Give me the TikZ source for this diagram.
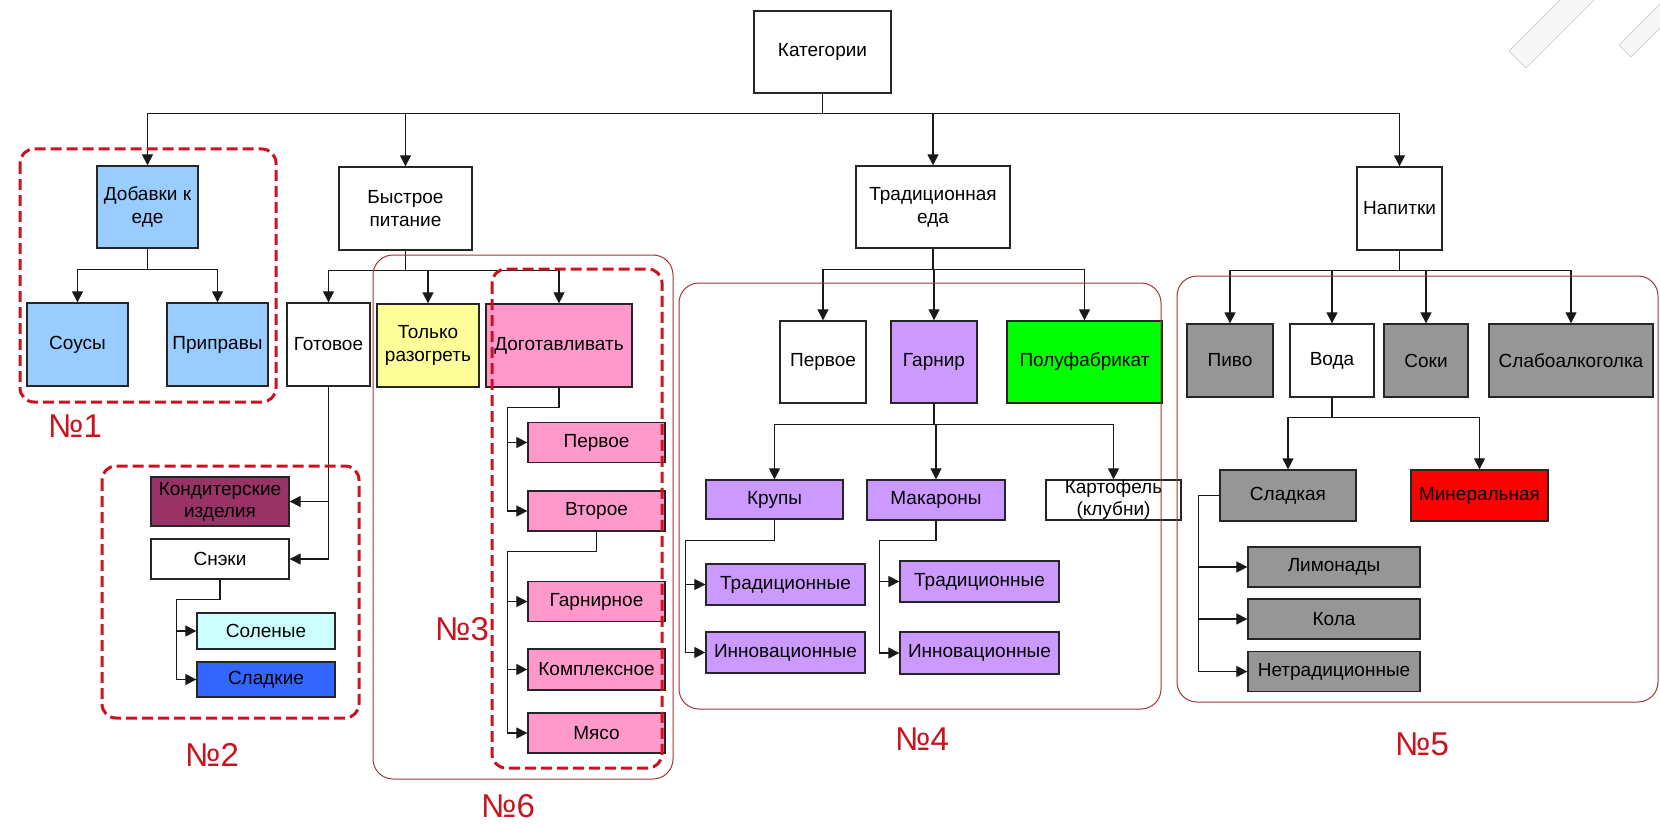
\documentclass[tikz,border=0pt]{standalone}
\usepackage{fontspec}
\setmainfont{Liberation Sans}
\usetikzlibrary{arrows.meta}
\definecolor{menuBlue}{RGB}{153, 204, 255}
\definecolor{menuYellow}{RGB}{255, 255, 153}
\definecolor{menuPink}{RGB}{255, 153, 204}
\definecolor{menuPurple}{RGB}{204, 153, 255}
\definecolor{menuGreen}{RGB}{0, 255, 0}
\definecolor{menuGray}{RGB}{150, 150, 150}
\definecolor{menuRed}{RGB}{255, 0, 0}
\definecolor{menuMaroon}{RGB}{153, 51, 102}
\definecolor{menuCyan}{RGB}{204, 255, 255}
\definecolor{menuDeepBlue}{RGB}{51, 102, 255}
\definecolor{groupRed}{RGB}{200, 20, 30}
\definecolor{groupBrown}{RGB}{160, 55, 55}

\begin{document}
\begin{tikzpicture}[
  x=1pt,y=-1pt,
  box/.style={
    draw=black!85,
    line width=1.3pt,
    align=center,
    inner sep=2pt,
    font=\fontsize{19}{23}\selectfont
  },
  arrow/.style={-{Triangle[length=11pt,width=11pt]},line width=1.2pt,black!90},
  group/.style={draw=groupRed,line width=3pt,dash pattern=on 11pt off 5pt,rounded corners=14pt},
  frame/.style={draw=groupBrown,line width=1pt,rounded corners=20pt},
  tag/.style={text=groupRed,font=\fontsize{33}{36}\selectfont}
]
  \useasboundingbox (0,0) rectangle (1660,824);

  % slide decoration, top right
  \begin{scope}
    \clip (0,0) rectangle (1660,824);
    \draw[gray!45,fill=gray!6] (1509,51) -- (1526,68) -- (1600,-6) -- (1566,-6) -- cycle;
    \draw[gray!45,fill=gray!6] (1619,45) -- (1631,57) -- (1700,-12) -- (1676,-12) -- cycle;
  \end{scope}

  % top levels
  \node[box,minimum width=137pt,minimum height=82pt] (cat) at (822.5,52) {Категории};
  \node[box,fill=menuBlue,minimum width=101pt,minimum height=82pt] (add) at (147.5,207)
    {Добавки к\\еде};
  \node[box,minimum width=133pt,minimum height=83pt] (fast) at (405.5,208.5)
    {Быстрое\\питание};
  \node[box,minimum width=154pt,minimum height=82pt] (trad) at (933,207)
    {Традиционная\\еда};
  \node[box,minimum width=85pt,minimum height=83pt] (drink) at (1399.5,208.5) {Напитки};

  \draw[arrow] (cat.south) -- ++(0,20) -| (add.north);
  \draw[arrow] (cat.south) -- ++(0,20) -| (fast.north);
  \draw[arrow] (cat.south) -- ++(0,20) -| (trad.north);
  \draw[arrow] (cat.south) -- ++(0,20) -| (drink.north);

  % food additions
  \node[box,fill=menuBlue,minimum width=101pt,minimum height=83pt] (sauce) at (77.5,344.5) {Соусы};
  \node[box,fill=menuBlue,minimum width=101pt,minimum height=83pt] (spice) at (217.5,344.5) {Приправы};
  \draw[arrow] (add.south) -- ++(0,21) -| (sauce.north);
  \draw[arrow] (add.south) -- ++(0,21) -| (spice.north);

  % fast food
  \node[box,minimum width=83pt,minimum height=83pt] (ready) at (328.5,344.5) {Готовое};
  \node[box,fill=menuYellow,minimum width=102pt,minimum height=83pt] (heat) at (428,345.5)
    {Только\\разогреть};
  \node[box,fill=menuPink,minimum width=146pt,minimum height=83pt] (finish) at (559,345.5)
    {Доготавливать};
  \draw[arrow] (fast.south) -- ++(0,20) -| (ready.north);
  \draw[arrow] (fast.south) -- ++(0,20) -| (heat.north);
  \draw[arrow] (fast.south) -- ++(0,20) -| (finish.north);

  \node[box,fill=menuMaroon,minimum width=138pt,minimum height=49pt,
    font=\fontsize{19}{22}\selectfont] (confect) at (220,501.5) {Кондитерские\\изделия};
  \node[box,minimum width=138pt,minimum height=40pt] (snack) at (220,559) {Снэки};
  \node[box,fill=menuCyan,minimum width=138pt,minimum height=36pt] (salty) at (266,631) {Соленые};
  \node[box,fill=menuDeepBlue,minimum width=138pt,minimum height=35pt] (sweet) at (266,679.5) {Сладкие};
  \draw[arrow] (ready.south) |- (confect.east);
  \draw[arrow] (ready.south) |- (snack.east);
  \draw[arrow] (snack.south) -- ++(0,20) -| ([xshift=-20pt]salty.west) -- (salty.west);
  \draw[arrow] (snack.south) -- ++(0,20) -| ([xshift=-20pt]sweet.west) -- (sweet.west);

  \node[box,fill=menuPink,minimum width=137pt,minimum height=40pt] (dish1) at (596.5,442.5) {Первое};
  \node[box,fill=menuPink,minimum width=137pt,minimum height=40pt] (dish2) at (596.5,511) {Второе};
  \node[box,fill=menuPink,minimum width=137pt,minimum height=40pt] (dish3) at (596.5,601.5) {Гарнирное};
  \node[box,fill=menuPink,minimum width=137pt,minimum height=41pt] (dish4) at (596.5,669.5) {Комплексное};
  \node[box,fill=menuPink,minimum width=137pt,minimum height=40pt] (dish5) at (596.5,733) {Мясо};
  \draw[arrow] (finish.south) -- ++(0,20) -| ([xshift=-20pt]dish1.west) -- (dish1.west);
  \draw[arrow] (finish.south) -- ++(0,20) -| ([xshift=-20pt]dish2.west) -- (dish2.west);
  \draw[arrow] (dish2.south) -- ++(0,20) -| ([xshift=-20pt]dish3.west) -- (dish3.west);
  \draw[arrow] (dish2.south) -- ++(0,20) -| ([xshift=-20pt]dish4.west) -- (dish4.west);
  \draw[arrow] (dish2.south) -- ++(0,20) -| ([xshift=-20pt]dish5.west) -- (dish5.west);

  % traditional food
  \node[box,minimum width=86pt,minimum height=82pt] (first) at (823,362) {Первое};
  \node[box,fill=menuPurple,minimum width=86pt,minimum height=82pt] (garnish) at (934,362) {Гарнир};
  \node[box,fill=menuGreen,minimum width=155pt,minimum height=82pt] (semi) at (1084.5,362) {Полуфабрикат};
  \draw[arrow] (trad.south) -- ++(0,21) -| (first.north);
  \draw[arrow] (trad.south) -- ++(0,21) -| (garnish.north);
  \draw[arrow] (trad.south) -- ++(0,21) -| (semi.north);

  \node[box,fill=menuPurple,minimum width=137pt,minimum height=39pt] (grain) at (774.5,499.5) {Крупы};
  \node[box,fill=menuPurple,minimum width=138pt,minimum height=40pt] (pasta) at (936,500) {Макароны};
  \node[box,minimum width=135pt,minimum height=40pt,inner ysep=0pt,
    font=\fontsize{19}{22}\selectfont] (potato) at (1113.5,500) {Картофель\\(клубни)};
  \draw[arrow] (garnish.south) -- ++(0,21) -| (grain.north);
  \draw[arrow] (garnish.south) -- ++(0,21) -| (pasta.north);
  \draw[arrow] (garnish.south) -- ++(0,21) -| (potato.north);

  \node[box,fill=menuPurple,minimum width=159pt,minimum height=41pt] (grainOld) at (785.5,584.5) {Традиционные};
  \node[box,fill=menuPurple,minimum width=159pt,minimum height=41pt] (grainNew) at (785.5,652.5) {Инновационные};
  \node[box,fill=menuPurple,minimum width=159pt,minimum height=41pt] (pastaOld) at (979.5,581.5) {Традиционные};
  \node[box,fill=menuPurple,minimum width=159pt,minimum height=42pt] (pastaNew) at (979.5,653) {Инновационные};
  \draw[arrow] (grain.south) -- ++(0,21) -| ([xshift=-20pt]grainOld.west) -- (grainOld.west);
  \draw[arrow] (grain.south) -- ++(0,21) -| ([xshift=-20pt]grainNew.west) -- (grainNew.west);
  \draw[arrow] (pasta.south) -- ++(0,20) -| ([xshift=-20pt]pastaOld.west) -- (pastaOld.west);
  \draw[arrow] (pasta.south) -- ++(0,20) -| ([xshift=-20pt]pastaNew.west) -- (pastaNew.west);

  % drinks
  \node[box,fill=menuGray,minimum width=86pt,minimum height=73pt] (beer) at (1230,360.5) {Пиво};
  \node[box,minimum width=84pt,minimum height=73pt] (water) at (1332,360.5) {Вода};
  \node[box,fill=menuGray,minimum width=84pt,minimum height=73pt] (juice) at (1426,360.5) {Соки};
  \node[box,fill=menuGray,minimum width=164pt,minimum height=73pt] (lowalc) at (1571,360.5) {Слабоалкоголка};
  \draw[arrow] (drink.south) -- ++(0,20) -| (beer.north);
  \draw[arrow] (drink.south) -- ++(0,20) -| (water.north);
  \draw[arrow] (drink.south) -- ++(0,20) -| (juice.north);
  \draw[arrow] (drink.south) -- ++(0,20) -| (lowalc.north);

  \node[box,fill=menuGray,minimum width=136pt,minimum height=51pt] (sweetw) at (1288,495.5) {Сладкая};
  \node[box,fill=menuRed,minimum width=137pt,minimum height=51pt] (mineral) at (1479.5,495.5) {Минеральная};
  \draw[arrow] (water.south) -- ++(0,20) -| (sweetw.north);
  \draw[arrow] (water.south) -- ++(0,20) -| (mineral.north);

  \node[box,fill=menuGray,minimum width=172pt,minimum height=40pt] (lemon) at (1334,567) {Лимонады};
  \node[box,fill=menuGray,minimum width=172pt,minimum height=40pt] (cola) at (1334,619) {Кола};
  \node[box,fill=menuGray,minimum width=172pt,minimum height=40pt] (odd) at (1334,671.5) {Нетрадиционные};
  \draw[arrow] (sweetw.west) -- ++(-21,0) |- (lemon.west);
  \draw[arrow] (sweetw.west) -- ++(-21,0) |- (cola.west);
  \draw[arrow] (sweetw.west) -- ++(-21,0) |- (odd.west);

  % groups
  \draw[group] (20,149) rectangle (276,402);
  \draw[group] (102,466) rectangle (359,718);
  \draw[group] (492,269) rectangle (662,768);
  \draw[frame] (373,255) rectangle (673,779);
  \draw[frame] (679,283) rectangle (1161,709);
  \draw[frame] (1177,276) rectangle (1658,702);

  \node[tag] (tag1) at (75,426) {№1};
  \node[tag] (tag2) at (212,755) {№2};
  \node[tag] (tag3) at (462,629) {№3};
  \node[tag] (tag4) at (922,739) {№4};
  \node[tag] (tag5) at (1422,744) {№5};
  \node[tag] (tag6) at (508,806) {№6};
\end{tikzpicture}
\end{document}
